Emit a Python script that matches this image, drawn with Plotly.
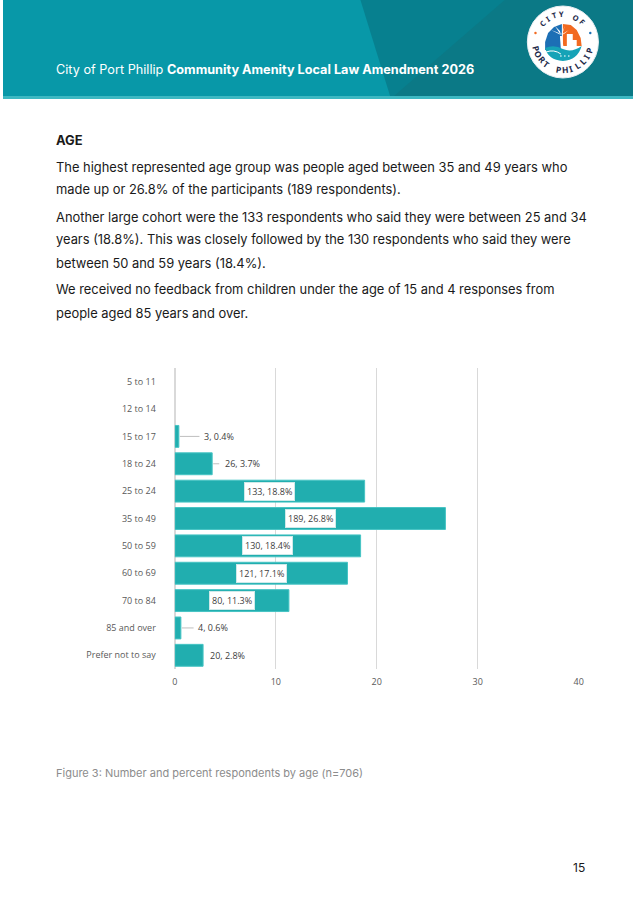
import math
import plotly.graph_objects as go

categories = ["5 to 11", "12 to 14", "15 to 17", "18 to 24", "25 to 24", "35 to 49",
              "50 to 59", "60 to 69", "70 to 84", "85 and over", "Prefer not to say"]
counts = [0, 0, 3, 26, 133, 189, 130, 121, 80, 4, 20]
percents = [0, 0, 0.4, 3.7, 18.8, 26.8, 18.4, 17.1, 11.3, 0.6, 2.8]
x_ticks = [0, 10, 20, 30, 40]

W, H = 638, 912
def px(x):
    return x / W
def py(y):
    return 1 - y / H

fig = go.Figure()
fig.add_trace(go.Bar(
    y=categories, x=percents, orientation="h",
    marker=dict(color="#21AEAF",
                line=dict(color="#46C4C4", width=[1 if v > 0 else 0 for v in percents])),
    hoverinfo="skip", showlegend=False,
))

shapes = []
annotations = []

def path(points, color):
    d = "M " + " L ".join(f"{px(a)} {py(b)}" for a, b in points) + " Z"
    shapes.append(dict(type="path", xref="paper", yref="paper", path=d,
                       fillcolor=color, line=dict(width=0)))

# Header band
shapes.append(dict(type="rect", xref="paper", yref="paper", x0=0, x1=1, y0=py(96), y1=1,
                   fillcolor="#0898A8", line=dict(width=0), layer="below"))
shapes.append(dict(type="path", xref="paper", yref="paper",
                   path=f"M {px(362)} {py(0)} L {px(638)} {py(0)} L {px(638)} {py(96)} L {px(392)} {py(96)} Z",
                   fillcolor="#07808F", line=dict(width=0), layer="below"))
shapes.append(dict(type="path", xref="paper", yref="paper",
                   path=f"M {px(508)} {py(0)} L {px(638)} {py(0)} L {px(638)} {py(96)} L {px(396)} {py(96)} Z",
                   fillcolor="#0B7986", line=dict(width=0), layer="below"))
shapes.append(dict(type="rect", xref="paper", yref="paper", x0=0, x1=1, y0=py(99), y1=py(96),
                   fillcolor="#3DB8C2", line=dict(width=0), layer="below"))

# Logo
cx, cy, R = 567, 42, 36
shapes.append(dict(type="circle", xref="paper", yref="paper",
                   x0=px(cx - R), x1=px(cx + R), y0=py(cy + R), y1=py(cy - R),
                   fillcolor="white", line=dict(color="#E8EEF2", width=1)))
# orange buildings / sun (upper right)
path([(cx, cy - 18), (cx + 8, cy - 17), (cx + 14, cy - 12), (cx + 18, cy - 4), (cx + 19, cy + 4),
      (cx + 14, cy + 4), (cx + 14, cy - 2), (cx + 10, cy - 2), (cx + 10, cy - 8), (cx + 4, cy - 8),
      (cx + 4, cy + 4), (cx, cy + 4)], "#F26A21")
# blue shape (left)
path([(cx - 1, cy - 18), (cx - 9, cy - 15), (cx - 15, cy - 9), (cx - 18, cy), (cx - 18, cy + 8),
      (cx - 1, cy + 8)], "#1C6FB5")
# palm trunk and fronds
path([(cx - 2, cy + 8), (cx - 3, cy - 6), (cx - 1, cy - 6), (cx + 1, cy + 8)], "white")
path([(cx - 2, cy - 7), (cx - 12, cy - 12), (cx - 4, cy - 9)], "white")
path([(cx - 2, cy - 7), (cx - 8, cy - 16), (cx - 3, cy - 11)], "white")
path([(cx - 2, cy - 7), (cx + 2, cy - 16), (cx, cy - 10)], "white")
path([(cx - 2, cy - 7), (cx + 6, cy - 12), (cx + 1, cy - 8)], "white")
# teal water (bottom)
shapes.append(dict(type="path", xref="paper", yref="paper",
                   path=f"M {px(cx-18)} {py(cy+6)} Q {px(cx-9)} {py(cy+2)} {px(cx)} {py(cy+7)} Q {px(cx+9)} {py(cy+11)} {px(cx+19)} {py(cy+4)} "
                        f"Q {px(cx+15)} {py(cy+18)} {px(cx)} {py(cy+19)} Q {px(cx-15)} {py(cy+18)} {px(cx-18)} {py(cy+6)} Z",
                   fillcolor="#16A3B7", line=dict(width=0)))
shapes.append(dict(type="path", xref="paper", yref="paper",
                   path=f"M {px(cx-17)} {py(cy+10)} Q {px(cx-9)} {py(cy+7)} {px(cx-2)} {py(cy+12)}",
                   line=dict(color="white", width=1)))
for dx in (-2, 2, 6):
    shapes.append(dict(type="circle", xref="paper", yref="paper",
                       x0=px(cx + dx - 0.8), x1=px(cx + dx + 0.8), y0=py(cy + 14.8), y1=py(cy + 13.2),
                       fillcolor="white", line=dict(width=0)))
shapes.append(dict(type="circle", xref="paper", yref="paper",
                   x0=px(538), x1=px(540.5), y0=py(34.2), y1=py(31.8),
                   fillcolor="#F26A21", line=dict(width=0)))
shapes.append(dict(type="circle", xref="paper", yref="paper",
                   x0=px(593.5), x1=px(596), y0=py(34.2), y1=py(31.8),
                   fillcolor="#1C6FB5", line=dict(width=0)))

def arc_text(text, t0, t1, r, size, top=True):
    n = len(text)
    for i, ch in enumerate(text):
        if ch == " ":
            continue
        t = t0 + (t1 - t0) * i / (n - 1)
        rad = math.radians(t)
        x = cx + r * math.cos(rad)
        y = cy - r * math.sin(rad)
        ang = (90 - t) if top else (270 - t)
        annotations.append(dict(text=f"<b>{ch}</b>", x=px(x), y=py(y), xref="paper", yref="paper",
                                showarrow=False, textangle=ang, xanchor="center", yanchor="middle",
                                font=dict(family="Noto Sans", size=size, color="#1E2A4A")))

arc_text("CITY OF", 139, 45, 28, 7.5, top=True)
arc_text("PORT PHILLIP", 193, 343, 27.5, 8.5, top=False)

# Header title
annotations.append(dict(text="City of Port Phillip <b>Community Amenity Local Law Amendment 2026</b>",
                        x=px(52), y=py(70), xref="paper", yref="paper", xanchor="left", yanchor="middle",
                        showarrow=False, font=dict(family="Inter", size=12.7, color="white")))

# Body text
body_font = dict(family="Inter", size=12.9, color="#1A1A1A")
annotations.append(dict(text="<b>AGE</b>", x=px(52), y=py(141), xref="paper", yref="paper",
                        xanchor="left", yanchor="middle", showarrow=False, font=body_font))
lines = [
    ("The highest represented age group was people aged between 35 and 49 years who", 167),
    ("made up or 26.8% of the participants (189 respondents).", 189),
    ("Another large cohort were the 133 respondents who said they were between 25 and 34", 217),
    ("years (18.8%). This was closely followed by the 130 respondents who said they were", 240),
    ("between 50 and 59 years (18.4%).", 263),
    ("We received no feedback from children under the age of 15 and 4 responses from", 290),
    ("people aged 85 years and over.", 313),
]
for t, y in lines:
    annotations.append(dict(text=t, x=px(52), y=py(y), xref="paper", yref="paper",
                            xanchor="left", yanchor="middle", showarrow=False, font=body_font))

# Caption and page number
annotations.append(dict(text="Figure 3: Number and percent respondents by age (n=706)", x=px(52), y=py(773),
                        xref="paper", yref="paper", xanchor="left", yanchor="middle", showarrow=False,
                        font=dict(family="Inter", size=11, color="#8C8C8C")))
annotations.append(dict(text="15", x=px(583), y=py(867), xref="paper", yref="paper",
                        xanchor="center", yanchor="middle", showarrow=False,
                        font=dict(family="Inter", size=12, color="#1A1A1A")))

# Data labels
label_font = dict(family="Open Sans", size=9, color="#404040")
out_label_x = {2: 2.74, 3: 4.79, 9: 2.05, 10: 3.3}
leader_end = {2: 2.44, 3: 4.4, 9: 1.86}
for i, (c, p) in enumerate(zip(counts, percents)):
    if c == 0:
        continue
    txt = f"{c}, {p}%"
    if p >= 10:
        annotations.append(dict(text=txt, x=p / 2, y=categories[i], xref="x", yref="y",
                                showarrow=False, bgcolor="white", bordercolor="#CFE9E9", borderwidth=1,
                                borderpad=2, font=label_font))
    else:
        annotations.append(dict(text=txt, x=out_label_x[i], y=categories[i], xref="x", yref="y",
                                xanchor="left", showarrow=False, font=label_font))
        if i in leader_end:
            shapes.append(dict(type="line", xref="x", yref="y", x0=p + 0.1, x1=leader_end[i],
                               y0=categories[i], y1=categories[i], line=dict(color="#BFBFBF", width=1)))

fig.update_layout(
    width=W, height=H, margin=dict(l=0, r=0, t=0, b=0),
    paper_bgcolor="white", plot_bgcolor="white",
    shapes=shapes, annotations=annotations,
    bargap=0.2,
    xaxis=dict(domain=[px(174), px(583)], range=[0, 40], tickvals=x_ticks,
               showgrid=True, gridcolor="#D9D9D9", gridwidth=1, zeroline=True, zerolinecolor="#D9D9D9",
               showline=False, ticks="", tickfont=dict(family="Open Sans", size=9, color="#595959"),
               ticklabelstandoff=6, fixedrange=True),
    yaxis=dict(domain=[py(669), py(368)], categoryorder="array", categoryarray=categories,
               autorange="reversed", showgrid=False, zeroline=False, showline=False, ticks="",
               tickfont=dict(family="Open Sans", size=9, color="#595959"),
               ticklabelstandoff=18, fixedrange=True),
)

post = ("document.documentElement.style.margin='0';document.body.style.margin='0';"
        "document.body.style.overflow='hidden';document.documentElement.style.overflow='hidden';"
        "var d=document.getElementsByClassName('plotly-graph-div')[0];"
        "d.style.position='absolute';d.style.left='0px';d.style.top='0px';")
fig.write_html("out.html", config={"displayModeBar": False, "staticPlot": True}, post_script=post)
